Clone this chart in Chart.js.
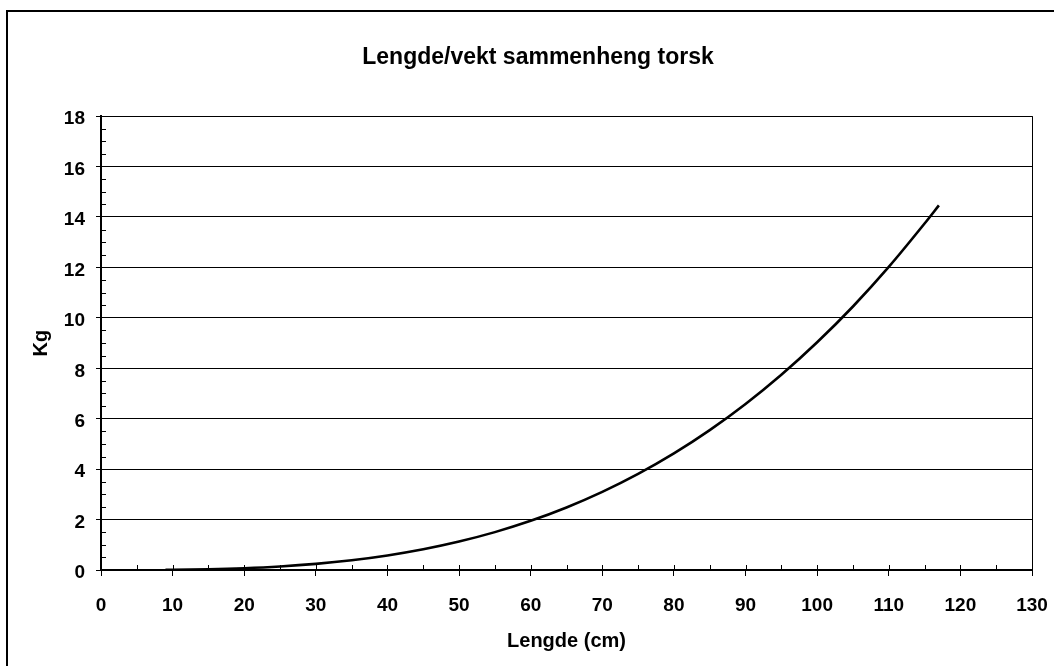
<!DOCTYPE html>
<html>
<head>
<meta charset="utf-8">
<script src="https://cdn.jsdelivr.net/npm/chart.js@4/dist/chart.umd.min.js"></script>
<style>
  html, body { margin: 0; padding: 0; background: #ffffff; overflow: hidden; }
  #frame { position: absolute; left: 6px; top: 10px; width: 1200px; height: 800px;
           border-left: 2px solid #000; border-top: 2px solid #000; }
  #wrap { position: absolute; left: 0; top: 0; width: 1054px; height: 666px; }
</style>
</head>
<body>
<div id="frame"></div>
<div id="wrap"><canvas id="c" width="1054" height="666"></canvas></div>
<script>
// ---- data ----
const chartTitle = "Lengde/vekt sammenheng torsk";
const xTitle = "Lengde (cm)";
const yTitle = "Kg";
const lengthCm = [9, 10, 15, 20, 25, 30, 35, 40, 45, 50, 55, 60, 65, 70, 75, 80, 85, 90, 95, 100, 105, 110, 115, 117];
const weightKg = [0.007, 0.009, 0.030, 0.072, 0.141, 0.244, 0.387, 0.578, 0.823, 1.129, 1.502, 1.950, 2.480, 3.097, 3.810, 4.623, 5.546, 6.583, 7.742, 9.030, 10.45, 12.02, 13.74, 14.46];
const xMin = 0, xMax = 130, xStep = 10, xMinorStep = 5;
const yMin = 0, yMax = 18, yStep = 2, yMinorStep = 0.5;

const points = lengthCm.map((x, i) => ({ x: x, y: weightKg[i] }));
const FONT = "'Liberation Sans', Arial, sans-serif";

const extras = {
  id: 'extras',
  afterDraw(chart) {
    const ctx = chart.ctx;
    const xs = chart.scales.x, ys = chart.scales.y;
    const a = chart.chartArea;
    ctx.save();
    ctx.strokeStyle = '#000';
    ctx.lineWidth = 1;
    // right plot border
    ctx.beginPath();
    ctx.moveTo(Math.round(a.right) + 0.5, a.top);
    ctx.lineTo(Math.round(a.right) + 0.5, a.bottom);
    ctx.stroke();
    // x minor + inner part of major ticks
    ctx.beginPath();
    for (let v = xMin; v <= xMax + 1e-9; v += xMinorStep) {
      const px = Math.round(xs.getPixelForValue(v)) + 0.5;
      ctx.moveTo(px, a.bottom);
      ctx.lineTo(px, a.bottom - 5);
    }
    ctx.stroke();
    // y minor ticks inside
    ctx.beginPath();
    for (let v = yMin; v <= yMax + 1e-9; v += yMinorStep) {
      if (Math.abs(v / yStep - Math.round(v / yStep)) < 1e-9) continue;
      const py = Math.round(ys.getPixelForValue(v)) + 0.5;
      ctx.moveTo(a.left, py);
      ctx.lineTo(a.left + 5, py);
    }
    ctx.stroke();
    ctx.restore();
  }
};

new Chart(document.getElementById('c'), {
  type: 'line',
  data: {
    datasets: [{
      data: points,
      borderColor: '#000',
      borderWidth: 2.6,
      pointRadius: 0,
      fill: false,
      cubicInterpolationMode: 'monotone'
    }]
  },
  options: {
    responsive: false,
    animation: false,
    layout: { padding: { left: 44, right: 22, top: 0, bottom: 0 } },
    plugins: {
      legend: { display: false },
      tooltip: { enabled: false },
      title: {
        display: true,
        text: chartTitle,
        color: '#000',
        font: { family: FONT, size: 23, weight: 'bold', lineHeight: 1.2 },
        padding: { top: 43.5, bottom: 45 }
      }
    },
    scales: {
      x: {
        type: 'linear',
        min: xMin, max: xMax,
        afterFit(s) { s.height = 96; s.paddingLeft = 0; s.paddingRight = 0; },
        ticks: { stepSize: xStep, color: '#000', padding: 18, maxRotation: 0,
                 font: { family: FONT, size: 19, weight: 'bold' } },
        grid: { display: true, drawOnChartArea: false, drawTicks: true, tickLength: 6, color: '#000', lineWidth: 1 },
        border: { display: true, color: '#000', width: 2 },
        title: { display: true, text: xTitle, color: '#000',
                 font: { family: FONT, size: 20, weight: 'bold', lineHeight: 1.2 },
                 padding: { top: 0, bottom: 13 } }
      },
      y: {
        type: 'linear',
        min: yMin, max: yMax,
        afterFit(s) { s.width = 57; s.paddingTop = 0; s.paddingBottom = 0; },
        ticks: { stepSize: yStep, color: '#000', padding: 11, labelOffset: 3,
                 font: { family: FONT, size: 19, weight: 'bold' } },
        grid: { display: true, drawTicks: true, tickLength: 5, color: '#000', lineWidth: 1 },
        border: { display: true, color: '#000', width: 2 },
        title: { display: true, text: yTitle, color: '#000',
                 font: { family: FONT, size: 20, weight: 'bold', lineHeight: 1.2 },
                 padding: { top: -15, bottom: 0 } }
      }
    }
  },
  plugins: [extras]
});
</script>
</body>
</html>
